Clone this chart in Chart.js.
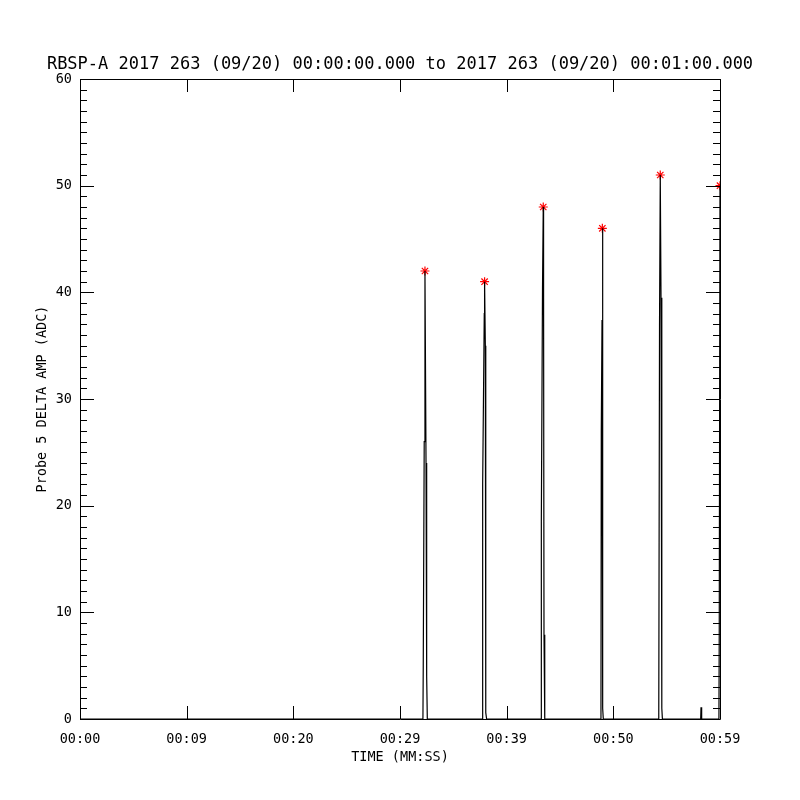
<!DOCTYPE html>
<html>
<head>
<meta charset="utf-8">
<script src="https://cdn.jsdelivr.net/npm/chart.js@4.4.1/dist/chart.umd.min.js"></script>
<style>
  html, body { margin: 0; padding: 0; background: #fff; }
  #wrap { width: 800px; height: 800px; }
</style>
</head>
<body>
<div id="wrap"><canvas id="amp" width="800" height="800"></canvas></div>
<script>
// --- dados ---
const plotTitle = 'RBSP-A 2017 263 (09/20) 00:00:00.000 to 2017 263 (09/20) 00:01:00.000';
const xTitle = 'TIME (MM:SS)';
const yTitle = 'Probe 5 DELTA AMP (ADC)';

// etiquetas do eixo X (segundos 0,10,...,60 como o IDL as escreveu)
const xTickLabels = ['00:00', '00:09', '00:20', '00:29', '00:39', '00:50', '00:59'];

// traço (tempo em segundos, amplitude em ADC)
const traceTime = [
    0, 32.15,
    32.18, 32.27, 32.34, 32.44, 32.50, 32.56,
    37.72, 37.75, 37.90, 37.93, 38.00, 38.04, 38.12,
    43.22, 43.25, 43.36, 43.43, 43.46, 43.50, 43.57,
    48.84, 48.87, 48.94, 48.97, 49.00, 49.03, 49.06,
    54.22, 54.26, 54.33, 54.40, 54.47, 54.53, 54.56, 54.60,
    58.19, 58.22, 58.26, 58.30,
    59.90, 59.93, 60.00
];
const traceAmp = [
    0, 0,
    5, 26, 42, 24, 4, 0,
    0, 22, 38, 41, 35, 0.6, 0,
    0, 18.5, 40.4, 48, 40, 7.9, 0,
    0, 27, 37.4, 46, 37, 1, 0,
    0, 0.4, 36.9, 51, 39.5, 37, 1, 0,
    0, 1.1, 0.4, 0,
    0, 8.4, 50
];

// picos marcados com asterisco vermelho
const peakTime = [32.34, 37.93, 43.43, 48.97, 54.40, 60.00];
const peakAmp = [42, 41, 48, 46, 51, 50];

const mono = 'DejaVu Sans Mono';

// moldura com ticks para dentro, nos quatro lados
const idlFrame = {
    id: 'idlFrame',
    afterDraw(chart) {
        const { ctx, chartArea: a, scales: { x, y } } = chart;
        ctx.save();
        ctx.strokeStyle = '#000';
        ctx.lineWidth = 1;
        ctx.beginPath();
        ctx.rect(a.left + 0.5, a.top + 0.5, a.right - a.left, a.bottom - a.top);

        // eixo X: só ticks maiores
        x.ticks.forEach(t => {
            const px = Math.round(x.getPixelForValue(t.value)) + 0.5;
            ctx.moveTo(px, a.bottom); ctx.lineTo(px, a.bottom - 13);
            ctx.moveTo(px, a.top); ctx.lineTo(px, a.top + 13);
        });

        // eixo Y: maiores a cada 10, menores a cada 1
        for (let v = y.min; v <= y.max; v += 1) {
            const py = Math.round(y.getPixelForValue(v)) + 0.5;
            const len = v % 10 === 0 ? 14 : 7;
            ctx.moveTo(a.left, py); ctx.lineTo(a.left + len, py);
            ctx.moveTo(a.right, py); ctx.lineTo(a.right - len, py);
        }
        ctx.stroke();
        ctx.restore();
    }
};

new Chart(document.getElementById('amp'), {
    type: 'scatter',
    data: {
        datasets: [
            {
                data: traceTime.map((t, i) => ({ x: t, y: traceAmp[i] })),
                showLine: true,
                borderColor: '#000',
                borderWidth: 1.2,
                pointRadius: 0,
                tension: 0
            },
            {
                data: peakTime.map((t, i) => ({ x: t, y: peakAmp[i] })),
                showLine: false,
                pointStyle: 'star',
                pointRadius: 4.5,
                borderColor: '#ff0000',
                backgroundColor: '#ff0000',
                pointBorderWidth: 1.2,
                clip: 0
            }
        ]
    },
    options: {
        responsive: false,
        animation: false,
        layout: { padding: 0 },
        plugins: {
            legend: { display: false },
            tooltip: { enabled: false },
            title: {
                display: true,
                text: plotTitle,
                color: '#000',
                font: { family: mono, size: 17, weight: 'normal' },
                padding: { top: 54, bottom: 4.6 }
            }
        },
        scales: {
            x: {
                type: 'linear',
                min: 0,
                max: 60,
                grid: { display: false, drawTicks: false },
                border: { display: false },
                ticks: {
                    stepSize: 10,
                    autoSkip: false,
                    maxRotation: 0,
                    padding: 12,
                    color: '#000',
                    font: { family: mono, size: 13.5 },
                    callback: (v, i) => xTickLabels[i]
                },
                title: {
                    display: true,
                    text: xTitle,
                    color: '#000',
                    font: { family: mono, size: 13.5 },
                    padding: { top: 0, bottom: 34 }
                },
                afterFit: s => { s.height = 81; }
            },
            y: {
                min: 0,
                max: 60,
                grid: { display: false, drawTicks: false },
                border: { display: false },
                ticks: {
                    stepSize: 10,
                    padding: 8,
                    color: '#000',
                    font: { family: mono, size: 13.5 }
                },
                title: {
                    display: true,
                    text: yTitle,
                    color: '#000',
                    font: { family: mono, size: 13.5 },
                    padding: { top: 34, bottom: 0 }
                },
                afterFit: s => { s.width = 80; }
            },
            // eixo vazio à direita, só para reservar a margem
            yRight: {
                position: 'right',
                min: 0,
                max: 60,
                grid: { display: false, drawTicks: false },
                border: { display: false },
                ticks: { display: false },
                afterFit: s => { s.width = 80; }
            }
        }
    },
    plugins: [idlFrame]
});
</script>
</body>
</html>
